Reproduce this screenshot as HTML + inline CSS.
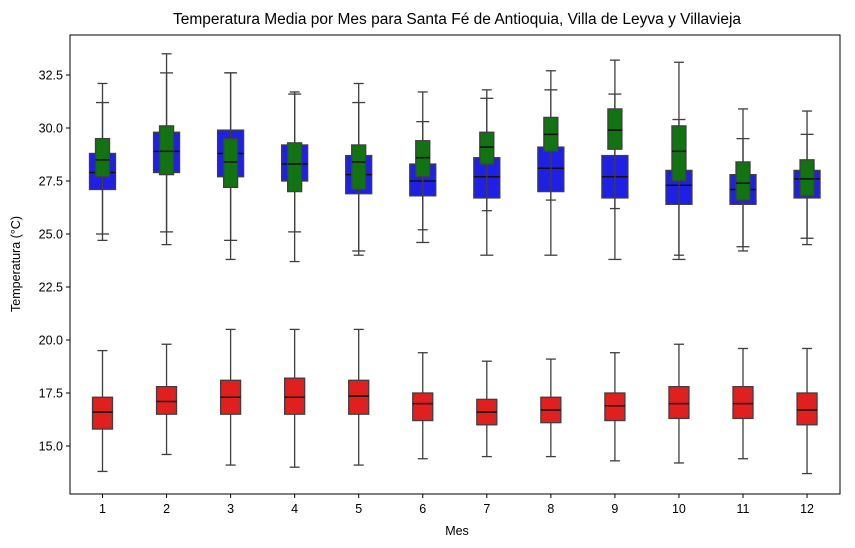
<!DOCTYPE html>
<html><head><meta charset="utf-8"><style>
body{margin:0;background:#fff}
svg{display:block;font-family:"Liberation Sans","DejaVu Sans",sans-serif}
</style></head><body>
<svg id="chart" width="855" height="548" viewBox="0 0 855 548" xmlns="http://www.w3.org/2000/svg">
<rect x="0" y="0" width="855" height="548" fill="#fff"/>
<text x="457" y="24" text-anchor="middle" font-size="15.5" fill="#000">Temperatura Media por Mes para Santa Fé de Antioquia, Villa de Leyva y Villavieja</text>
<text x="457" y="535" text-anchor="middle" font-size="12.5" fill="#000">Mes</text>
<text x="20" y="264" text-anchor="middle" font-size="12.5" fill="#000" transform="rotate(-90 20 264)">Temperatura (°C)</text>
<g id="marks"></g>
<g id="axes"></g>
</svg>
<script>
const months=[1,2,3,4,5,6,7,8,9,10,11,12];
const yTicks=[15.0,17.5,20.0,22.5,25.0,27.5,30.0,32.5];
// blue series: [whiskerLow, q1, median, q3, whiskerHigh]
const blueLo=[25.0,25.1,24.7,25.1,24.2,24.6,24.0,24.0,23.8,23.8,24.4,24.8];
const blueQ1=[27.1,27.9,27.7,27.5,26.9,26.8,26.7,27.0,26.7,26.4,26.4,26.7];
const blueMed=[27.9,28.9,28.8,28.3,27.8,27.5,27.7,28.1,27.7,27.3,27.1,27.6];
const blueQ3=[28.8,29.8,29.9,29.2,28.7,28.3,28.6,29.1,28.7,28.0,27.8,28.0];
const blueHi=[31.2,32.6,32.6,31.6,31.2,30.3,31.4,31.8,31.6,30.4,29.5,29.7];
const greenLo=[24.7,24.5,23.8,23.7,24.0,25.2,26.1,26.6,26.2,24.0,24.2,24.5];
const greenQ1=[27.7,27.8,27.2,27.0,27.1,27.7,28.3,28.9,29.0,27.5,26.6,26.8];
const greenMed=[28.5,28.9,28.4,28.3,28.4,28.6,29.1,29.7,29.9,28.9,27.4,27.6];
const greenQ3=[29.5,30.1,29.5,29.3,29.2,29.4,29.8,30.5,30.9,30.1,28.4,28.5];
const greenHi=[32.1,33.5,32.6,31.7,32.1,31.7,31.8,32.7,33.2,33.1,30.9,30.8];
const redLo=[13.8,14.6,14.1,14.0,14.1,14.4,14.5,14.5,14.3,14.2,14.4,13.7];
const redQ1=[15.8,16.5,16.5,16.5,16.5,16.2,16.0,16.1,16.2,16.3,16.3,16.0];
const redMed=[16.6,17.1,17.3,17.3,17.35,17.0,16.6,16.7,16.9,17.0,17.0,16.7];
const redQ3=[17.3,17.8,18.1,18.2,18.1,17.5,17.2,17.3,17.5,17.8,17.8,17.5];
const redHi=[19.5,19.8,20.5,20.5,20.5,19.4,19.0,19.1,19.4,19.8,19.6,19.6];

const NS="http://www.w3.org/2000/svg";
const L=70,R=840,T=35,B=494;
function xs(m){return 102.5+(m-1)*64.05;}
function ys(v){return 234-(v-25)*21.2;}
function mk(tag,attrs,parent){const e=document.createElementNS(NS,tag);for(const k in attrs)e.setAttribute(k,attrs[k]);parent.appendChild(e);return e;}
const marks=document.getElementById('marks');
const axes=document.getElementById('axes');
function drawSeries(name,lo,q1,med,q3,hi,fill,w,capw){
  months.forEach((m,i)=>{
    const g=mk('g',{},marks);
    
    
    const cx=xs(m);
    const st={stroke:'#3f3f3f','stroke-width':1.3,fill:'none'};
    mk('line',Object.assign({x1:cx,x2:cx,y1:ys(lo[i]),y2:ys(q1[i])},st),g);
    mk('line',Object.assign({x1:cx,x2:cx,y1:ys(q3[i]),y2:ys(hi[i])},st),g);
    mk('line',Object.assign({x1:cx-capw/2,x2:cx+capw/2,y1:ys(lo[i]),y2:ys(lo[i])},st),g);
    mk('line',Object.assign({x1:cx-capw/2,x2:cx+capw/2,y1:ys(hi[i]),y2:ys(hi[i])},st),g);
    mk('rect',{x:cx-w/2,y:ys(q3[i]),width:w,height:ys(q1[i])-ys(q3[i]),fill:fill,stroke:'#3f3f3f','stroke-width':1.3},g);
    mk('line',{x1:cx-w/2,x2:cx+w/2,y1:ys(med[i]),y2:ys(med[i]),stroke:'#111','stroke-width':1.5},g);
  });
}
drawSeries('blue',blueLo,blueQ1,blueMed,blueQ3,blueHi,'#1f1fe6',26,13);
drawSeries('green',greenLo,greenQ1,greenMed,greenQ3,greenHi,'#127312',14,10);
drawSeries('red',redLo,redQ1,redMed,redQ3,redHi,'#e01f1f',20,10);

// axes frame
const f=mk('rect',{x:L,y:T,width:R-L,height:B-T,fill:'none',stroke:'#000','stroke-width':1},axes);


yTicks.forEach(v=>{
  const y=ys(v);
  const t=mk('line',{x1:L-4,x2:L,y1:y,y2:y,stroke:'#000','stroke-width':1},axes);
  
  
  const tx=mk('text',{x:L-7,y:y+4.5,'text-anchor':'end','font-size':12.5,fill:'#000'},axes);
  tx.textContent=v.toFixed(1);
  
  
});
months.forEach(m=>{
  const x=xs(m);
  const t=mk('line',{x1:x,x2:x,y1:B,y2:B+4,stroke:'#000','stroke-width':1},axes);
  
  
  const tx=mk('text',{x:x,y:B+19,'text-anchor':'middle','font-size':12.5,fill:'#000'},axes);
  tx.textContent=String(m);
  
  
});
</script>
</body></html>
